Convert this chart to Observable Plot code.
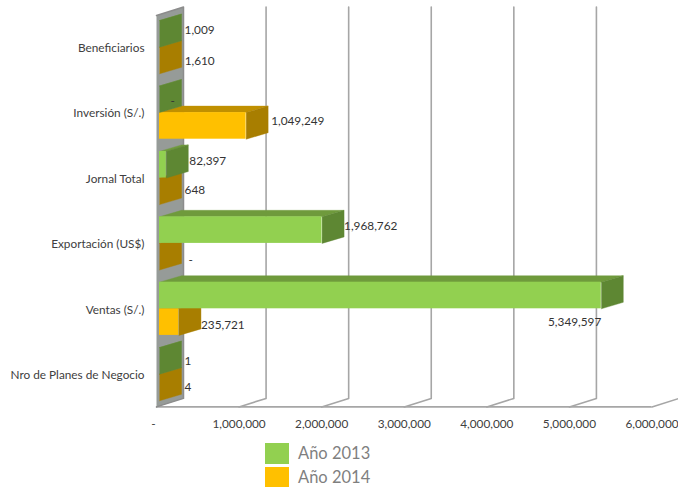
<!DOCTYPE html>
<html>
<head>
<meta charset="utf-8">
<script src="https://cdn.jsdelivr.net/npm/d3@7"></script>
<script src="https://cdn.jsdelivr.net/npm/@observablehq/plot@0.6"></script>
<style>
html,body{margin:0;padding:0;background:#fff;overflow:hidden;width:678px;height:487px}
svg{display:block;overflow:visible}
#legend{position:absolute;left:265px;top:443px;font-family:Lato,sans-serif;font-size:16.5px;color:#7f7f7f;line-height:21px}
#legend .row{display:flex;align-items:center;height:21px;margin-bottom:3px}
#legend .sw{width:24px;height:21px;margin-right:9px}
</style>
</head>
<body>
<div id="chart"></div>
<div id="legend"></div>
<script>
const categories = ["Beneficiarios","Inversión (S/.)","Jornal Total","Exportación (US$)","Ventas (S/.)","Nro de Planes de Negocio"];
const seriesNames = ["Año 2013","Año 2014"];
const values2013 = [1009, 0, 82397, 1968762, 5349597, 1];
const values2014 = [1610, 1049249, 648, 0, 235721, 4];
const xTicks = [0,1000000,2000000,3000000,4000000,5000000,6000000];

// label nudges in px, in the order of the values: [dx, dy]
const nudge2013 = [[0,-4],[-14,2],[-2,-3],[-3,-4],[-80,27],[0,0]];
const nudge2014 = [[0,1],[0,-5],[0,-1],[4,3.5],[-3,3],[0,0]];

const colors = {
  "Año 2013": {front:"#92d050", side:"#5e8733", top:"#6f9a3c"},
  "Año 2014": {front:"#ffc000", side:"#a87e00", top:"#c09000"}
};

// layout: px to data units
const W = 678, H = 440, mLeft = 156, xRight = 651.5, mTop = 14, yFloor = 406.4;
const pxX = 6000000 / (xRight - mLeft);
const pxY = 6 / (yFloor - mTop);
const inset = 3 * pxX, barDX = 22 * pxX, barDY = 6.5 * pxY, barH = 26.6 * pxY;
const gridDX = 27 * pxX, gridDY = 8.5 * pxY;
const yTop = -0.5, yBottom = 5.5, yWallTop = yTop + 1 * pxY;

const fmt = v => v === 0 ? "-" : d3.format(",")(v);

function barFaces(values, s, y1Of) {
  const front = [], side = [], topFace = [];
  values.forEach((v, i) => {
    const y1 = y1Of(i), y2 = y1 + barH, x = v + inset;
    front.push({x1: inset, x2: x, y1, y2});
    [[x,y1],[x+barDX,y1-barDY],[x+barDX,y2-barDY],[x,y2]].forEach(p => side.push({x:p[0],y:p[1],z:i}));
    [[inset,y1],[inset+barDX,y1-barDY],[x+barDX,y1-barDY],[x,y1]].forEach(p => topFace.push({x:p[0],y:p[1],z:i}));
  });
  const c = colors[s];
  return [
    Plot.line(topFace,{x:"x",y:"y",z:"z",fill:c.top,stroke:c.top,strokeWidth:0.4}),
    Plot.line(side,{x:"x",y:"y",z:"z",fill:c.side,stroke:c.side,strokeWidth:0.4}),
    Plot.rect(front,{x1:"x1",x2:"x2",y1:"y1",y2:"y2",fill:c.front})
  ];
}

const wall = [[0,yWallTop],[gridDX,yWallTop-gridDY],[gridDX,yBottom-gridDY],[0,yBottom]].map(p=>({x:p[0],y:p[1]}));
const grid = xTicks.slice(1).flatMap(t => [
  {x:t,y:yBottom,z:t},{x:t+gridDX,y:yBottom-gridDY,z:t},{x:t+gridDX,y:yWallTop-gridDY,z:t}
]);

const labels = [];
categories.forEach((c,i)=>{
  const yG = i - barH/2, yO = i + barH/2;
  [[values2013[i],yG,nudge2013[i]],[values2014[i],yO,nudge2014[i]]].forEach(([v,y,n])=>{
    labels.push({x:v+inset+barDX+(3+n[0])*pxX, y:y+n[1]*pxY, t:fmt(v)});
  });
});
// the large Ventas label sits under the bar, ending at its front edge
labels.filter(l=>l.t==="5,349,597").forEach(l=>{ l.x = 5349597 + inset; l.anchor = "end"; });

const plot = Plot.plot({
  width:W, height:H,
  marginLeft:mLeft, marginRight:W-xRight, marginTop:mTop, marginBottom:H-yFloor,
  x:{domain:[0,6000000]},
  y:{domain:[yBottom,yTop]},
  style:{fontFamily:"Lato, sans-serif",fontSize:"11.8px",color:"#404040",background:"#fff",overflow:"visible"},
  marks:[
    Plot.line(grid,{x:"x",y:"y",z:"z",stroke:"#a6a6a6",strokeWidth:1.6}),
    Plot.ruleY([yBottom],{stroke:"#a6a6a6",strokeWidth:1.6}),
    Plot.line(wall,{x:"x",y:"y",fill:"#969b98",stroke:"#8c8c8c",strokeWidth:1.5}),
    ...barFaces(values2014,"Año 2014",i=>i),
    ...barFaces(values2013,"Año 2013",i=>i-barH),
    Plot.axisX({ticks:xTicks.slice(1),tickFormat:fmt,tickSize:0,tickPadding:13,label:null,anchor:"bottom"}),
    Plot.axisX({ticks:[0],tickFormat:fmt,tickSize:0,tickPadding:13,label:null,anchor:"bottom",dx:-3}),
    Plot.axisY({ticks:d3.range(categories.length),tickFormat:i=>categories[i],tickSize:0,tickPadding:12,label:null,anchor:"left",dy:1}),
    Plot.text(labels.filter(l=>!l.anchor),{x:"x",y:"y",text:"t",textAnchor:"start",fill:"#333333"}),
    Plot.text(labels.filter(l=>l.anchor),{x:"x",y:"y",text:"t",textAnchor:"end",fill:"#333333"})
  ]
});
document.getElementById("chart").appendChild(plot);

const lg = document.getElementById("legend");
seriesNames.forEach(s=>{
  const r=document.createElement("div");r.className="row";
  const sw=document.createElement("div");sw.className="sw";sw.style.background=colors[s].front;
  const t=document.createElement("span");t.textContent=s;
  r.append(sw,t);lg.append(r);
});
</script>
</body>
</html>
